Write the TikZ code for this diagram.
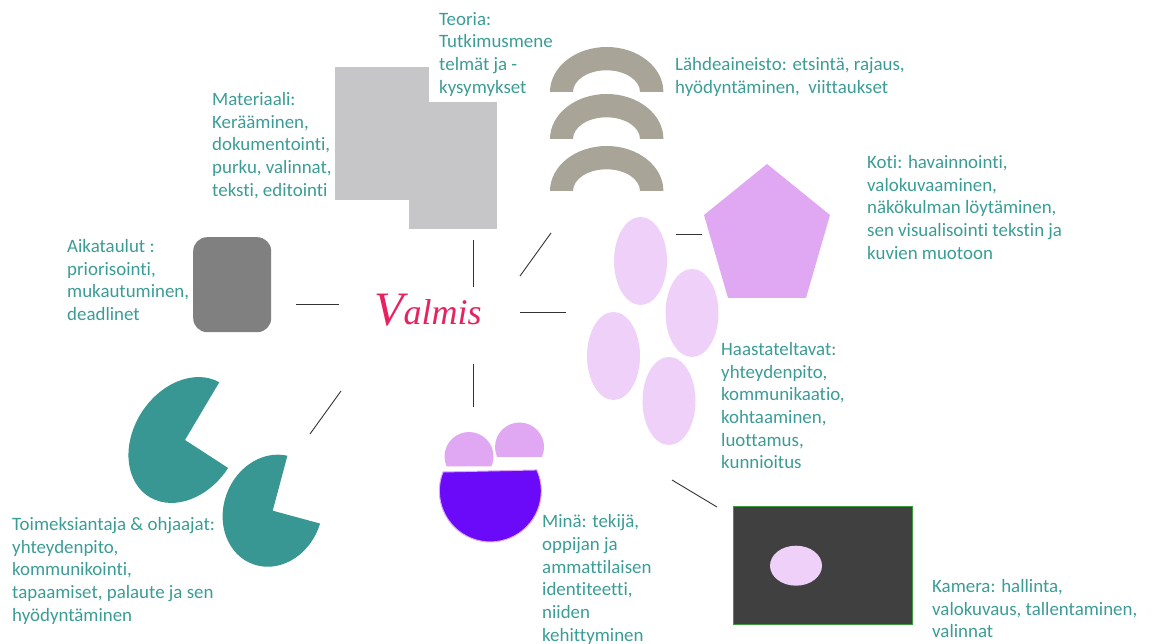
\documentclass[tikz,border=0pt]{standalone}
\usepackage{fontspec}
\setmainfont{Carlito}[Ligatures=NoCommon]
\newfontfamily\valmisfont{Liberation Serif}
\usepackage{tikz}
\usetikzlibrary{positioning,shapes.geometric}
\definecolor{labelink}{HTML}{3B9C96}
\definecolor{teal}{HTML}{389793}
\definecolor{paper}{HTML}{C6C6C8}
\definecolor{source}{HTML}{A8A598}
\definecolor{lilac}{HTML}{EFD0F8}
\definecolor{violet}{HTML}{E0A8F3}
\definecolor{self}{HTML}{6A0AF8}
\definecolor{pink}{HTML}{E8215F}
\definecolor{frameline}{HTML}{3A9A3A}

\begin{document}
\begin{tikzpicture}[
  x=1pt, y=1pt,
  font=\fontsize{18.9}{22.7}\selectfont,
  lbl/.style={text=labelink, anchor=north west, align=left, inner sep=0pt},
  sheet/.style={rectangle, fill=paper, inner sep=0pt, anchor=north west},
  oval/.style={ellipse, fill=lilac, inner sep=0pt, minimum width=53pt, minimum height=88pt},
  link/.style={draw=black!80, line width=0.9pt}]

  \useasboundingbox (0,0) rectangle (1152,644);

  % hub
  \node[text=pink, inner sep=0pt] (valmis) at (428,334)
    {\valmisfont\itshape\fontsize{36}{36}\selectfont\raisebox{-1pt}{\fontsize{48}{48}\selectfont V}almis};

  % papers
  \node[sheet, minimum width=94pt, minimum height=133pt] (paper1) at (335,577) {};
  \node[sheet, minimum width=88pt, minimum height=127pt] (paper2) at (409,542) {};
  \node[lbl] (theory) at (439,632) {Teoria:\\Tutkimusmene\\telmät ja -\\kysymykset};
  \node[lbl] (material) at (212,552) {Materiaali:\\Kerääminen,\\dokumentointi,\\purku, valinnat,\\teksti, editointi};

  % sources
  \foreach \y in {552,505,453}
    \fill[source] (550,\y) arc[start angle=180, end angle=0, x radius=56.7, y radius=45]
      -- (640,\y) arc[start angle=0, end angle=180, x radius=33.5, y radius=21.7] -- cycle;
  \node[lbl] (sources) at (675,587) {Lähdeaineisto: etsintä, rajaus,\\hyödyntäminen,\ \ viittaukset};

  % home
  \fill[violet] (767,480) -- (830,429) -- (806,346) -- (728,346) -- (704,429) -- cycle;
  \node[lbl] (home) at (867,489) {Koti: havainnointi,\\valokuvaaminen,\\näkökulman löytäminen,\\sen visualisointi tekstin ja\\kuvien muotoon};

  % interviewees
  \node[oval] (int1) at (640.5,383) {};
  \node[oval] (int2) at (692,331) {};
  \node[oval] (int3) at (613.5,288) {};
  \node[oval] (int4) at (669,243) {};
  \node[lbl] (people) at (721,302) {Haastateltavat:\\yhteydenpito,\\kommunikaatio,\\kohtaaminen,\\luottamus,\\kunnioitus};

  % schedule
  \node[rectangle, rounded corners=14pt, fill=black!50, inner sep=0pt, anchor=north west,
    minimum width=78pt, minimum height=95pt] (clock) at (193,407) {};
  \node[lbl] (schedule) at (67,405) {Aikataulut :\\priorisointi,\\mukautuminen,\\deadlinet};

  % supervisors
  \fill[teal, shift={(185,204)}, rotate=57] (0,0) -- (3:67.2 and 51.4)
    arc[start angle=3, end angle=270, x radius=67.2, y radius=51.4] -- cycle;
  \fill[teal, shift={(272.7,133.3)}, rotate=69] (0,0) -- (7:57 and 49)
    arc[start angle=7, end angle=275, x radius=57, y radius=49] -- cycle;
  \node[lbl] (client) at (12,127) {Toimeksiantaja \& ohjaajat:\\yhteydenpito,\\kommunikointi,\\tapaamiset, palaute ja sen\\hyödyntäminen};

  % self
  \draw[fill=self, draw=violet, line width=1pt] (443,172) arc[start angle=158.2, end angle=384.3, radius=51] -- cycle;
  \fill[violet] (491.4,177.5) arc[start angle=-24, end angle=204, radius=24.5] -- cycle;
  \fill[violet] (541.9,187) arc[start angle=-24, end angle=204, radius=24.5] -- cycle;
  \node[lbl] (self) at (542,129.5) {Minä: tekijä,\\oppijan ja\\ammattilaisen\\identiteetti,\\niiden\\kehittyminen};

  % camera
  \node[rectangle, fill=black!75, draw=frameline, line width=1pt, inner sep=0pt, anchor=north west,
    minimum width=179pt, minimum height=118pt] (frame) at (733,138) {};
  \node[ellipse, fill=lilac, inner sep=0pt, minimum width=52pt, minimum height=40pt] (lens) at (796,78.3) {};
  \node[lbl] (camera) at (932,65) {Kamera: hallinta,\\valokuvaus, tallentaminen,\\valinnat};

  % spokes
  \coordinate (s1a) at (473,357); \coordinate (s1b) at (473,404);
  \coordinate (s2a) at (520,368); \coordinate (s2b) at (551,411);
  \coordinate (s3a) at (520,331.5); \coordinate (s3b) at (566,331.5);
  \coordinate (s4a) at (339,340); \coordinate (s4b) at (296,340);
  \coordinate (s5a) at (341,253); \coordinate (s5b) at (310,210);
  \coordinate (s6a) at (473.5,280); \coordinate (s6b) at (473.5,237);
  \coordinate (s7a) at (672,164); \coordinate (s7b) at (717,137);
  \coordinate (s8a) at (676,410); \coordinate (s8b) at (702,410);
  \foreach \i in {1,...,8}
    \draw[link] (s\i a) -- (s\i b);
\end{tikzpicture}
\end{document}
